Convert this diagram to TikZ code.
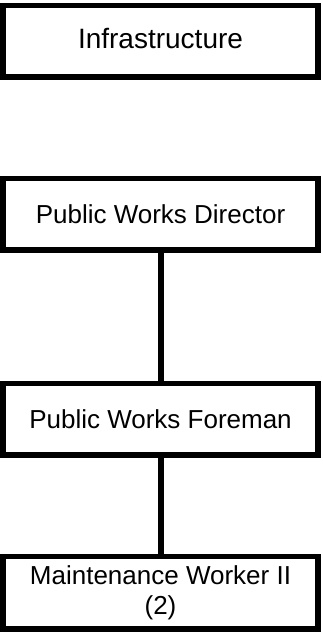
\documentclass[tikz,border=0pt]{standalone}
\usepackage{fontspec}
\setmainfont{Liberation Sans}
\begin{document}
\begin{tikzpicture}[x=1pt,y=1pt,
  orgbox/.style={draw=black, line width=5.5pt, fill=white, minimum width=315pt,
    minimum height=71.5pt, inner sep=0pt, align=center,
    font=\fontsize{26}{30}\selectfont},
  link/.style={draw=black, line width=5.5pt}]
\useasboundingbox (0,0) rectangle (322,635);
\node[orgbox, font=\fontsize{28}{32}\selectfont, text depth=6.5pt] (infra) at (160.5,593.5) {Infrastructure};
\node[orgbox] (dir) at (160.5,420.5) {Public Works Director};
\node[orgbox] (fore) at (160.5,215.5) {Public Works Foreman};
\node[orgbox, minimum height=72.5pt] (mw) at (160.5,42) {Maintenance Worker II\\(2)};
\draw[link] (dir.south -| 161,0) -- (fore.north -| 161,0);
\draw[link] (fore.south -| 161,0) -- (mw.north -| 161,0);
\end{tikzpicture}
\end{document}
